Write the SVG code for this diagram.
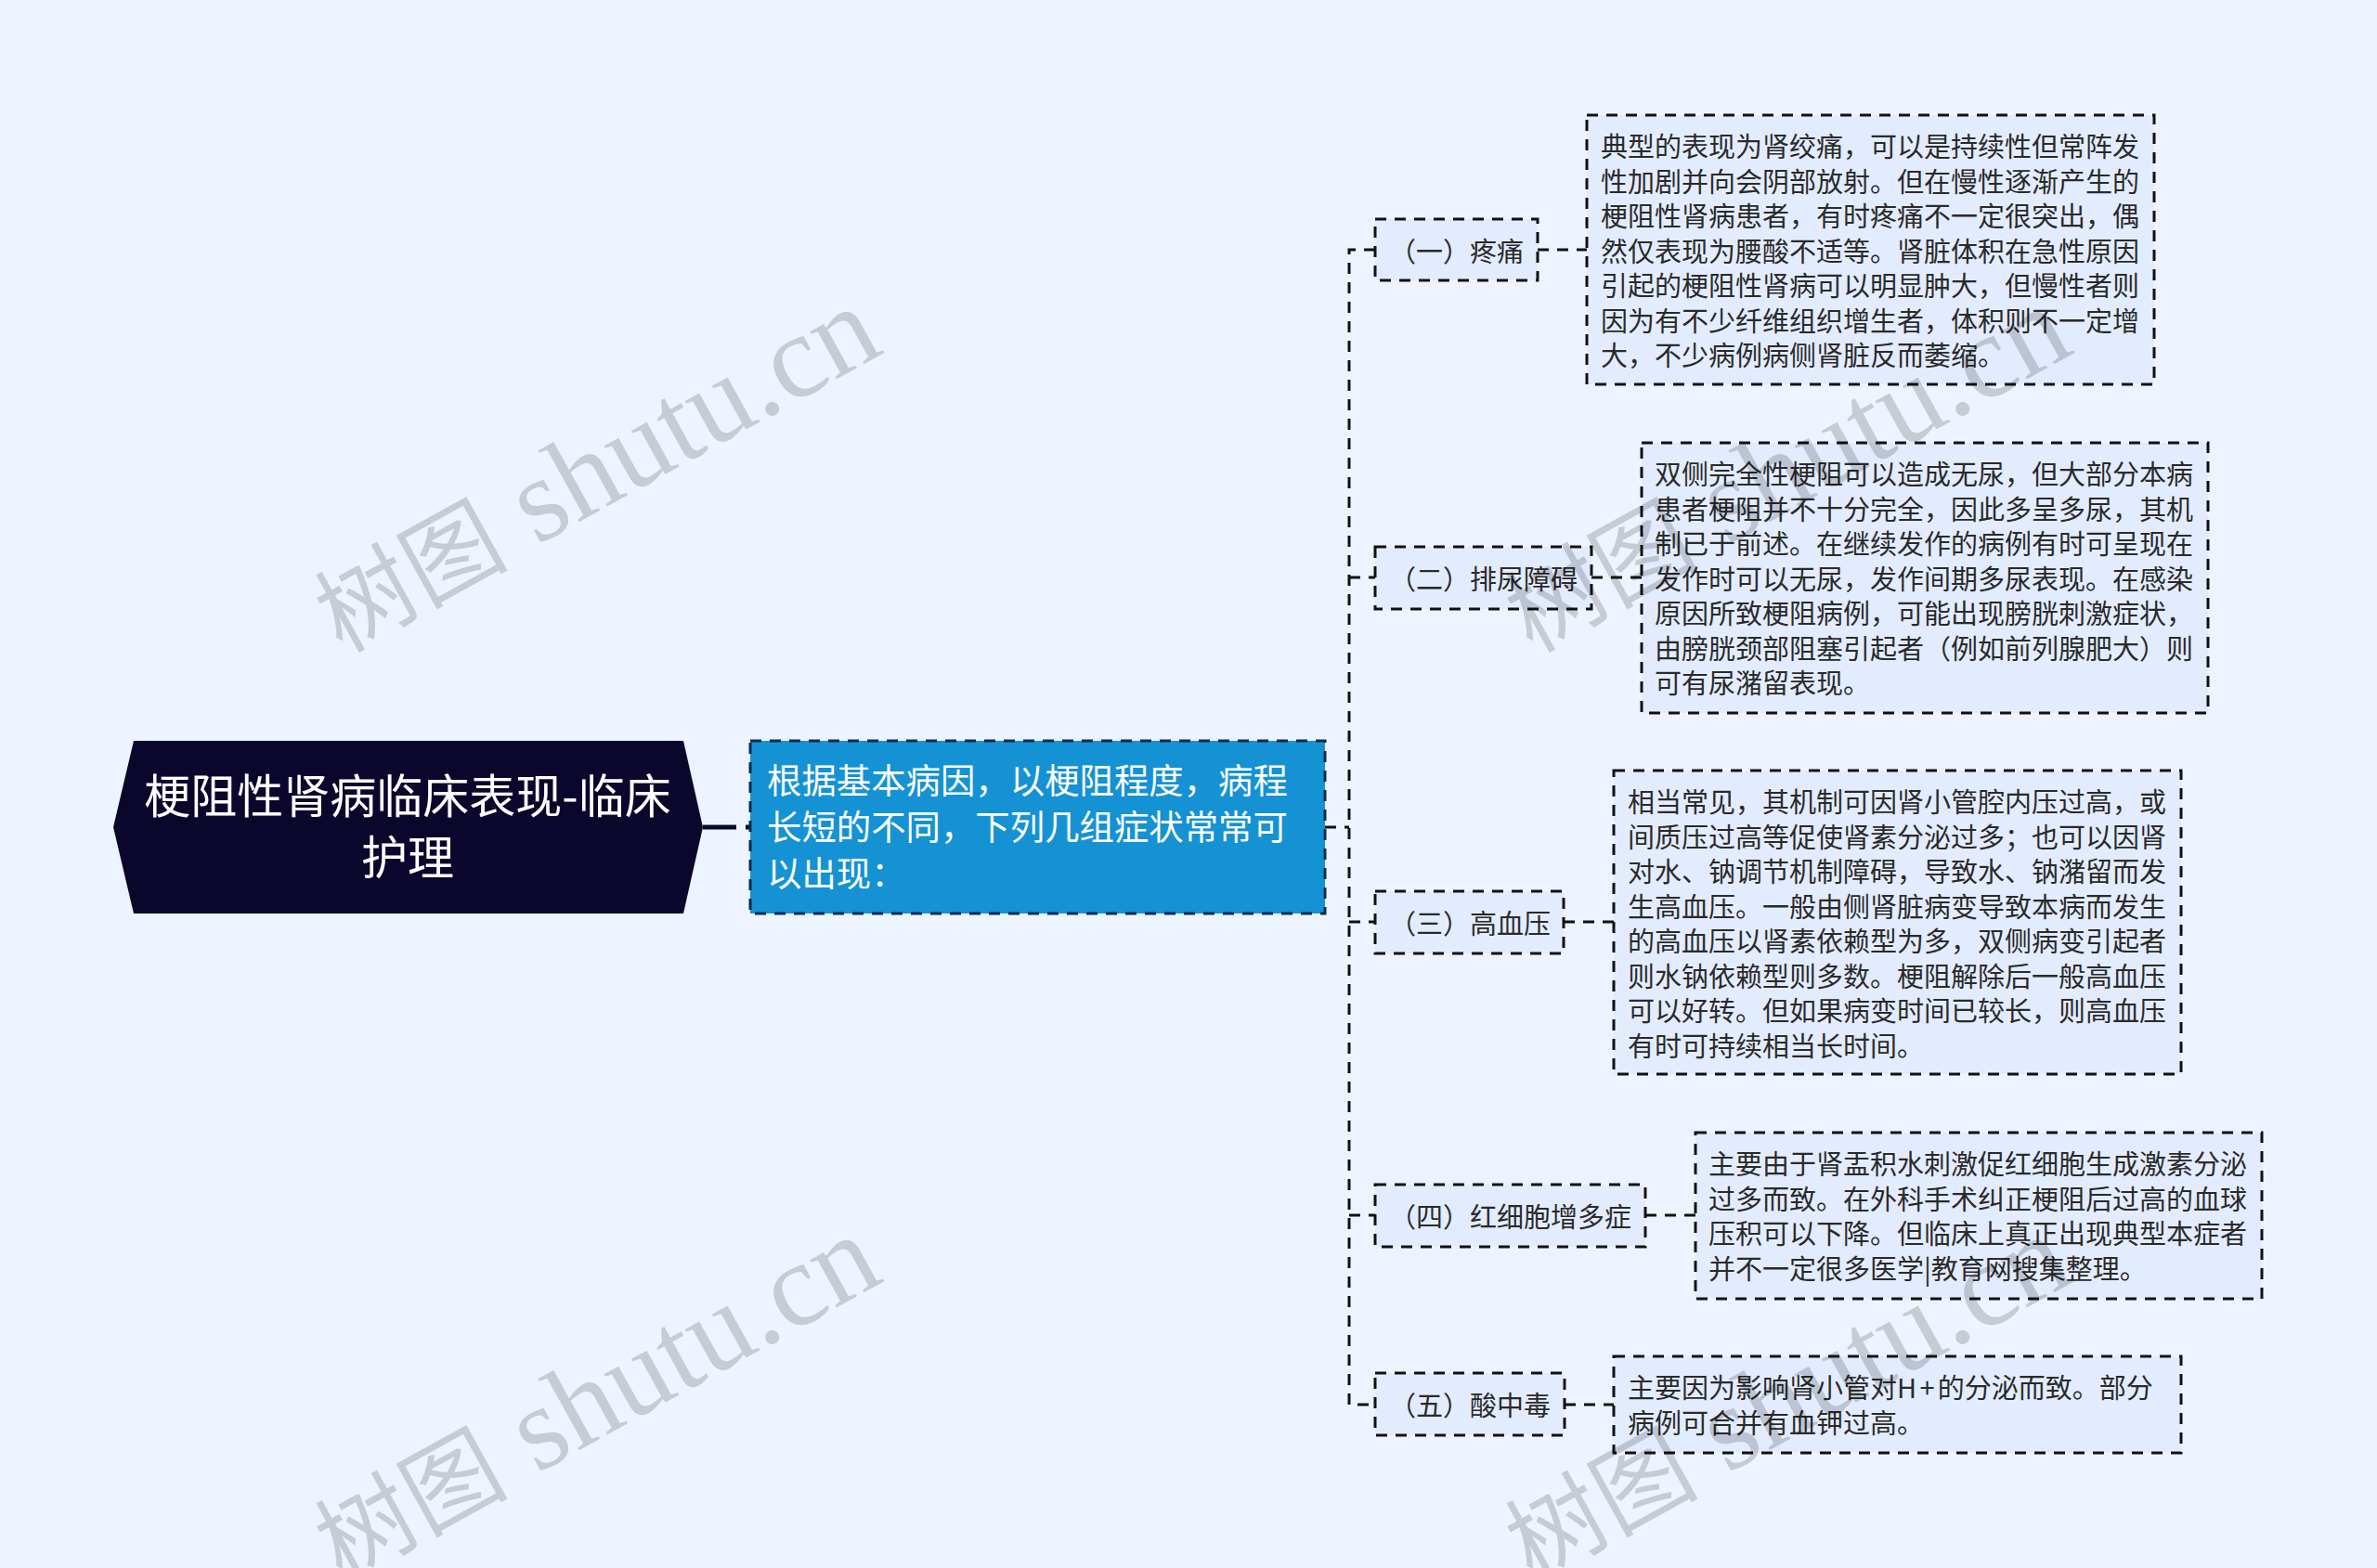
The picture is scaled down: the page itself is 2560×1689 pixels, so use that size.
<svg xmlns="http://www.w3.org/2000/svg" width="2560" height="1689" viewBox="0 0 2560 1689">
<style>
text{font-family:"Noto Sans CJK SC","Liberation Sans",sans-serif}
.box{fill:#e3ecfe;stroke:#111;stroke-width:3;stroke-dasharray:12 9}
.c{fill:none;stroke:#111;stroke-width:3;stroke-dasharray:12 9}
.t{font-size:29px;fill:#2a2a2a}
.wm{font-family:"Liberation Serif","Noto Sans CJK SC",serif;font-size:128px;fill:#000;fill-opacity:.17}
.wc{font-family:"Noto Sans CJK SC",serif;font-size:104px}
</style>
<rect width="2560" height="1689" fill="#eef4ff"/>
<g id="connectors">
<path d="M757 891H808" style="fill:none;stroke:#0a0a30;stroke-width:5;stroke-dasharray:36 10"/>
<path class="c" d="M1427 891H1453"/>
<path class="c" d="M1481 269H1453V1513H1481"/>
<path class="c" d="M1453 622H1481"/>
<path class="c" d="M1453 993H1481"/>
<path class="c" d="M1453 1309H1481"/>
<path class="c" d="M1656 269H1709"/>
<path class="c" d="M1714 622H1768"/>
<path class="c" d="M1684 993H1738"/>
<path class="c" d="M1772 1309H1826"/>
<path class="c" d="M1685 1513H1738"/>
</g>
<g id="root">
<polygon points="122,891 144,798 736,798 757,891 736,984 144,984" fill="#0a062c"/>
<text x="439" y="876" font-size="50" fill="#fff" text-anchor="middle">梗阻性肾病临床表现-临床</text>
<text x="439" y="942" font-size="50" fill="#fff" text-anchor="middle">护理</text>
</g>
<g id="main">
<rect x="808" y="798" width="619" height="186" style="fill:#1592d3;stroke:#0c2c4c;stroke-width:3;stroke-dasharray:12 9"/>
<text x="826" y="855" font-size="37.4" fill="#fff">根据基本病因，以梗阻程度，病程</text>
<text x="826" y="905" font-size="37.4" fill="#fff">长短的不同，下列几组症状常常可</text>
<text x="826" y="955" font-size="37.4" fill="#fff">以出现：</text>
</g>
<g id="n1"><rect class="box" x="1481" y="236" width="175" height="66"/><text class="t" x="1496" y="282">（一）疼痛</text></g>
<g id="n2"><rect class="box" x="1481" y="589" width="233" height="67"/><text class="t" x="1496" y="635">（二）排尿障碍</text></g>
<g id="n3"><rect class="box" x="1481" y="960" width="203" height="67"/><text class="t" x="1496" y="1006">（三）高血压</text></g>
<g id="n4"><rect class="box" x="1481" y="1276" width="291" height="67"/><text class="t" x="1496" y="1322">（四）红细胞增多症</text></g>
<g id="n5"><rect class="box" x="1481" y="1479" width="204" height="67"/><text class="t" x="1496" y="1525">（五）酸中毒</text></g>
<g id="l1"><rect class="box" x="1709" y="124" width="611" height="290"/>
<text class="t" x="1724" y="169">典型的表现为肾绞痛，可以是持续性但常阵发</text>
<text class="t" x="1724" y="206.500">性加剧并向会阴部放射。但在慢性逐渐产生的</text>
<text class="t" x="1724" y="244">梗阻性肾病患者，有时疼痛不一定很突出，偶</text>
<text class="t" x="1724" y="281.500">然仅表现为腰酸不适等。肾脏体积在急性原因</text>
<text class="t" x="1724" y="319">引起的梗阻性肾病可以明显肿大，但慢性者则</text>
<text class="t" x="1724" y="356.500">因为有不少纤维组织增生者，体积则不一定增</text>
<text class="t" x="1724" y="394">大，不少病例病侧肾脏反而萎缩。</text></g>
<g id="l2"><rect class="box" x="1768" y="477" width="610" height="291"/>
<text class="t" x="1782" y="522">双侧完全性梗阻可以造成无尿，但大部分本病</text>
<text class="t" x="1782" y="559.500">患者梗阻并不十分完全，因此多呈多尿，其机</text>
<text class="t" x="1782" y="597">制已于前述。在继续发作的病例有时可呈现在</text>
<text class="t" x="1782" y="634.500">发作时可以无尿，发作间期多尿表现。在感染</text>
<text class="t" x="1782" y="672">原因所致梗阻病例，可能出现膀胱刺激症状，</text>
<text class="t" x="1782" y="709.500">由膀胱颈部阻塞引起者（例如前列腺肥大）则</text>
<text class="t" x="1782" y="747">可有尿潴留表现。</text></g>
<g id="l3"><rect class="box" x="1738" y="830" width="611" height="327"/>
<text class="t" x="1753" y="875">相当常见，其机制可因肾小管腔内压过高，或</text>
<text class="t" x="1753" y="912.500">间质压过高等促使肾素分泌过多；也可以因肾</text>
<text class="t" x="1753" y="950">对水、钠调节机制障碍，导致水、钠潴留而发</text>
<text class="t" x="1753" y="987.500">生高血压。一般由侧肾脏病变导致本病而发生</text>
<text class="t" x="1753" y="1025">的高血压以肾素依赖型为多，双侧病变引起者</text>
<text class="t" x="1753" y="1062.500">则水钠依赖型则多数。梗阻解除后一般高血压</text>
<text class="t" x="1753" y="1100">可以好转。但如果病变时间已较长，则高血压</text>
<text class="t" x="1753" y="1137.500">有时可持续相当长时间。</text></g>
<g id="l4"><rect class="box" x="1826" y="1220" width="610" height="179"/>
<text class="t" x="1840" y="1265">主要由于肾盂积水刺激促红细胞生成激素分泌</text>
<text class="t" x="1840" y="1302.500">过多而致。在外科手术纠正梗阻后过高的血球</text>
<text class="t" x="1840" y="1340">压积可以下降。但临床上真正出现典型本症者</text>
<text class="t" x="1840" y="1377.500">并不一定很多医学|教育网搜集整理。</text></g>
<g id="l5"><rect class="box" x="1738" y="1461" width="611" height="104"/>
<text class="t" x="1753" y="1506">主要因为影响肾小管对<tspan letter-spacing="3.300">H+</tspan>的分泌而致。部分</text>
<text class="t" x="1753" y="1543.500">病例可合并有血钾过高。</text></g>
<g id="watermarks">
<text class="wm" transform="translate(368,704) rotate(-29)"><tspan class="wc">树图</tspan> shutu.cn</text>
<text class="wm" transform="translate(1650,704) rotate(-29)"><tspan class="wc">树图</tspan> shutu.cn</text>
<text class="wm" transform="translate(368,1704) rotate(-29)"><tspan class="wc">树图</tspan> shutu.cn</text>
<text class="wm" transform="translate(1650,1704) rotate(-29)"><tspan class="wc">树图</tspan> shutu.cn</text>
</g>
</svg>
